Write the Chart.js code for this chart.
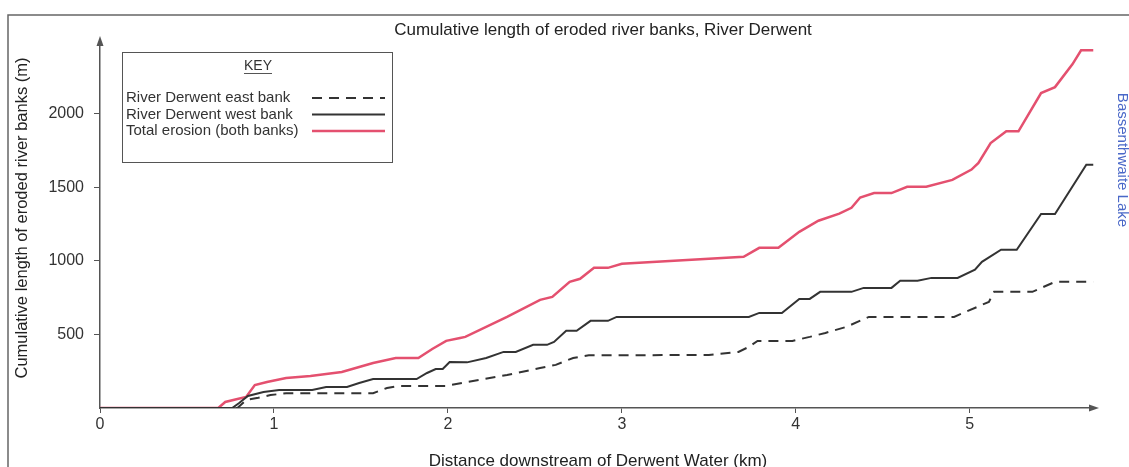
<!DOCTYPE html>
<html>
<head>
<meta charset="utf-8">
<title>River Derwent - eroded banks</title>
<script src="https://cdn.jsdelivr.net/npm/chart.js@4"></script>
<style>
  html, body { margin: 0; background: #fff; }
  canvas { display: block; }
</style>
</head>
<body>
<canvas id="grafico" width="1129" height="467"></canvas>
<script>
// distance downstream (km) and cumulative eroded length (m) for each bank
var eastKm = [0, 0.79, 0.84, 0.91, 0.98, 1.07, 1.57, 1.65, 1.72, 1.99, 2.11, 2.34, 2.53, 2.62, 2.72, 2.81, 3.50, 3.67, 3.73, 3.78, 3.98, 4.08, 4.17, 4.29, 4.42, 4.91, 5.11, 5.14, 5.36, 5.49, 5.71];
var eastM = [0, 0, 54, 70, 88, 100, 100, 136, 150, 150, 177, 224, 272, 293, 340, 358, 360, 381, 415, 456, 456, 483, 510, 551, 619, 619, 721, 789, 789, 857, 857];

var westKm = [0, 0.76, 0.80, 0.85, 0.94, 1.03, 1.22, 1.30, 1.42, 1.49, 1.57, 1.82, 1.88, 1.93, 1.97, 2.01, 2.11, 2.22, 2.32, 2.39, 2.49, 2.57, 2.61, 2.68, 2.74, 2.82, 2.92, 2.97, 3.73, 3.79, 3.92, 4.02, 4.08, 4.14, 4.32, 4.39, 4.55, 4.60, 4.70, 4.78, 4.93, 5.03, 5.07, 5.18, 5.27, 5.41, 5.49, 5.67, 5.71];
var westM = [0, 0, 34, 82, 109, 122, 122, 143, 143, 170, 197, 197, 238, 265, 265, 313, 310, 340, 381, 381, 429, 429, 449, 524, 524, 592, 592, 619, 619, 646, 646, 741, 741, 789, 789, 816, 816, 864, 864, 884, 884, 939, 993, 1075, 1075, 1318, 1318, 1653, 1653];

var totalKm = [0, 0.68, 0.72, 0.79, 0.84, 0.89, 0.96, 1.07, 1.21, 1.30, 1.39, 1.49, 1.57, 1.70, 1.83, 1.91, 1.99, 2.07, 2.10, 2.34, 2.53, 2.60, 2.70, 2.76, 2.84, 2.92, 3.00, 3.70, 3.79, 3.90, 4.02, 4.13, 4.25, 4.32, 4.37, 4.45, 4.55, 4.64, 4.75, 4.90, 5.01, 5.05, 5.12, 5.21, 5.28, 5.41, 5.49, 5.59, 5.64, 5.71];
var totalM = [0, 0, 41, 61, 75, 156, 177, 204, 218, 231, 245, 279, 306, 340, 340, 401, 456, 476, 483, 619, 735, 755, 857, 878, 952, 952, 980, 1027, 1088, 1088, 1197, 1272, 1320, 1360, 1430, 1460, 1460, 1503, 1503, 1550, 1620, 1665, 1800, 1880, 1880, 2140, 2180, 2335, 2430, 2430];

var xTicks = [0, 1, 2, 3, 4, 5];
var yTicks = [500, 1000, 1500, 2000];

var fonte = '"Liberation Sans", Arial, sans-serif';

function pontos(km, m){
    var p = [];
    for (var i = 0; i < km.length; i++) {
        p.push({x: km[i], y: m[i]});
    }
    return p;
}

// frame, arrows, titles and the KEY box
var extras = {
    id: 'extras',
    beforeDraw: function(chart){
        var ctx = chart.ctx;
        ctx.save();
        ctx.fillStyle = '#fff';
        ctx.fillRect(0, 0, chart.width, chart.height);
        ctx.strokeStyle = '#666';
        ctx.lineWidth = 1.5;
        ctx.beginPath();
        ctx.moveTo(8, chart.height);
        ctx.lineTo(8, 15);
        ctx.lineTo(chart.width, 15);
        ctx.stroke();
        ctx.restore();
    },
    afterDraw: function(chart){
        var ctx = chart.ctx;
        var a = chart.chartArea;
        ctx.save();

        // arrow heads
        ctx.fillStyle = '#555';
        ctx.beginPath();
        ctx.moveTo(a.left, a.top - 4);
        ctx.lineTo(a.left - 3.5, a.top + 6);
        ctx.lineTo(a.left + 3.5, a.top + 6);
        ctx.fill();
        ctx.beginPath();
        ctx.moveTo(a.right + 4, a.bottom);
        ctx.lineTo(a.right - 6, a.bottom - 3.5);
        ctx.lineTo(a.right - 6, a.bottom + 3.5);
        ctx.fill();

        ctx.fillStyle = '#222';
        ctx.textBaseline = 'middle';
        ctx.textAlign = 'center';
        ctx.font = '17px ' + fonte;
        ctx.fillText('Cumulative length of eroded river banks, River Derwent', 603, 30);
        ctx.fillText('Distance downstream of Derwent Water (km)', 598, 461);

        ctx.save();
        ctx.translate(22, 218);
        ctx.rotate(-Math.PI / 2);
        ctx.font = '16.5px ' + fonte;
        ctx.fillText('Cumulative length of eroded river banks (m)', 0, 0);
        ctx.restore();

        ctx.save();
        ctx.translate(1122, 160);
        ctx.rotate(Math.PI / 2);
        ctx.fillStyle = '#4a68c8';
        ctx.font = '15px ' + fonte;
        ctx.fillText('Bassenthwaite Lake', 0, 0);
        ctx.restore();

        // KEY
        ctx.strokeStyle = '#555';
        ctx.lineWidth = 1;
        ctx.strokeRect(122.5, 52.5, 270, 110);
        ctx.font = '14px ' + fonte;
        ctx.fillStyle = '#333';
        ctx.fillText('KEY', 258, 66);
        var w = ctx.measureText('KEY').width;
        ctx.beginPath();
        ctx.moveTo(258 - w / 2, 73.5);
        ctx.lineTo(258 + w / 2, 73.5);
        ctx.stroke();

        ctx.textAlign = 'left';
        ctx.font = '15px ' + fonte;
        chart.data.datasets.forEach(function(ds, i){
            var y = 98 + i * 16.5;
            ctx.fillStyle = '#333';
            ctx.fillText(ds.label, 126, y);
            ctx.strokeStyle = ds.borderColor;
            ctx.lineWidth = ds.borderWidth;
            ctx.setLineDash(ds.borderDash || []);
            ctx.beginPath();
            ctx.moveTo(312, y);
            ctx.lineTo(385, y);
            ctx.stroke();
            ctx.setLineDash([]);
        });
        ctx.restore();
    }
};

var ctx = document.getElementById('grafico').getContext('2d');
var grafico = new Chart(ctx, {
    type: 'line',
    data: {
        datasets: [{
            label: 'River Derwent east bank',
            data: pontos(eastKm, eastM),
            borderColor: '#333',
            borderWidth: 2,
            borderDash: [10, 7]
        }, {
            label: 'River Derwent west bank',
            data: pontos(westKm, westM),
            borderColor: '#333',
            borderWidth: 2
        }, {
            label: 'Total erosion (both banks)',
            data: pontos(totalKm, totalM),
            borderColor: '#e4506f',
            borderWidth: 2.5
        }]
    },
    options: {
        responsive: false,
        animation: false,
        parsing: false,
        elements: {
            point: { radius: 0 },
            line: { tension: 0 }
        },
        layout: { padding: { top: 40, right: 34, left: 0, bottom: 0 } },
        plugins: {
            legend: { display: false },
            title: { display: false },
            tooltip: { enabled: false }
        },
        scales: {
            x: {
                type: 'linear',
                min: 0,
                max: 5.72,
                afterBuildTicks: function(s){ s.ticks = xTicks.map(function(v){ return {value: v}; }); },
                afterFit: function(s){ s.height = 59; },
                ticks: {
                    color: '#333', padding: 2, font: { family: fonte, size: 16 },
                    callback: function(v){ return String(v); }
                },
                grid: { drawOnChartArea: false, tickLength: 5, color: '#555' },
                border: { color: '#555', width: 1.5 }
            },
            y: {
                type: 'linear',
                min: 0,
                max: 2500,
                afterBuildTicks: function(s){ s.ticks = yTicks.map(function(v){ return {value: v}; }); },
                afterFit: function(s){ s.width = 100; },
                ticks: {
                    color: '#333', padding: 10, font: { family: fonte, size: 16 },
                    callback: function(v){ return String(v); }
                },
                grid: { drawOnChartArea: false, tickLength: 6, color: '#555' },
                border: { color: '#555', width: 1.5 }
            }
        }
    },
    plugins: [extras]
});
</script>
</body>
</html>
